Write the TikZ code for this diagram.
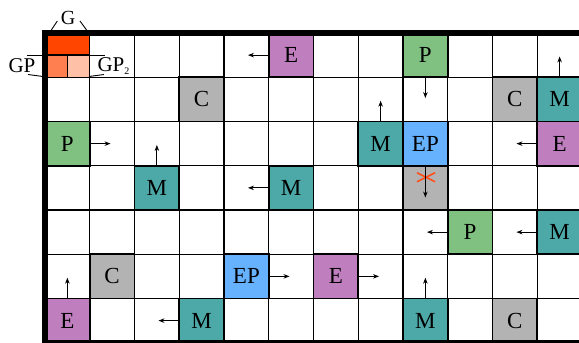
\documentclass[tikz,border=0pt]{standalone}
\usepackage{fontspec}
\setmainfont{Liberation Serif}
\usetikzlibrary{arrows.meta}
\definecolor{colE}{RGB}{191,127,191}
\definecolor{colM}{RGB}{77,168,168}
\definecolor{colP}{RGB}{128,192,128}
\definecolor{colEP}{RGB}{102,178,255}
\definecolor{colC}{RGB}{179,179,179}
\definecolor{colG}{RGB}{255,69,0}
\definecolor{colGPa}{RGB}{255,127,80}
\definecolor{colGPb}{RGB}{255,192,168}
\definecolor{colX}{RGB}{255,80,30}
\begin{document}
\begin{tikzpicture}[x=44.75pt,y=-44.25pt,
  gridline/.style={draw=black, line width=1.4pt},
  border/.style={draw=black, line width=6pt},
  cellbox/.style={draw=black, line width=1.6pt, minimum width=44.75pt, minimum height=44.25pt, inner sep=0pt, anchor=center, font=\fontsize{23}{23}\selectfont},
  cellE/.style={cellbox, fill=colE},
  cellM/.style={cellbox, fill=colM},
  cellP/.style={cellbox, fill=colP},
  cellEP/.style={cellbox, fill=colEP},
  cellC/.style={cellbox, fill=colC},
  quarter/.style={draw=black, line width=1.4pt, inner sep=0pt, anchor=center},
  lbl/.style={inner sep=0pt, anchor=center, font=\fontsize{21}{21}\selectfont},
  brk/.style={draw=black, line width=0.9pt},
  arr/.style={-{Stealth[length=6pt,width=4.5pt]}, line width=1pt},
  xmark/.style={draw=colX, line width=1.6pt}
]
\useasboundingbox (-1.005587,-0.745763) rectangle (11.932961,7.005650);
\clip (-1.005587,-0.745763) rectangle (11.932961,7.005650);
\fill[white] (-1.005587,-0.745763) rectangle (11.932961,7.005650);

% grid
\foreach \i in {1,...,11} \draw[gridline] (\i,0) -- (\i,7);
\foreach \j in {1,...,6} \draw[gridline] (0,\j) -- (12,\j);

% G cell
\node[quarter, fill=colG, minimum width=44.75pt, minimum height=22.125pt] (g) at (0.5,0.25) {};
\node[quarter, fill=colGPa, minimum width=22.375pt, minimum height=22.125pt] (gpa) at (0.25,0.75) {};
\node[quarter, fill=colGPb, minimum width=22.375pt, minimum height=22.125pt] (gpb) at (0.75,0.75) {};

% coloured cells
\node[cellE] (e1) at (5.5,0.5) {E};
\node[cellP] (p1) at (8.5,0.5) {P};
\node[cellC] (c1) at (3.5,1.5) {C};
\node[cellC] (c2) at (10.5,1.5) {C};
\node[cellM] (m1) at (11.5,1.5) {M};
\node[cellP] (p2) at (0.5,2.5) {P};
\node[cellM] (m2) at (7.5,2.5) {M};
\node[cellEP] (ep1) at (8.5,2.5) {EP};
\node[cellE] (e2) at (11.5,2.5) {E};
\node[cellM] (m3) at (2.5,3.5) {M};
\node[cellM] (m4) at (5.5,3.5) {M};
\node[cellC] (cx) at (8.5,3.5) {};
\node[cellP] (p3) at (9.5,4.5) {P};
\node[cellM] (m5) at (11.5,4.5) {M};
\node[cellC] (c3) at (1.5,5.5) {C};
\node[cellEP] (ep2) at (4.5,5.5) {EP};
\node[cellE] (e4) at (6.5,5.5) {E};
\node[cellE] (e3) at (0.5,6.5) {E};
\node[cellM] (m7) at (3.5,6.5) {M};
\node[cellM] (m6) at (8.5,6.5) {M};
\node[cellC] (c4) at (10.5,6.5) {C};

% red cross
\coordinate (xa) at (8.313,3.158);
\coordinate (xb) at (8.715,3.362);
\coordinate (xc) at (8.313,3.362);
\coordinate (xd) at (8.715,3.158);
\draw[xmark] (xa) -- (xb);
\draw[xmark] (xc) -- (xd);

% arrows
\draw[arr] (e1.west) -- ++(-20pt,0pt);
\draw[arr] (m1.north) -- ++(0pt,20pt);
\draw[arr] (p1.south) -- ++(0pt,-20pt);
\draw[arr] (m2.north) -- ++(0pt,20pt);
\draw[arr] (p2.east) -- ++(20pt,0pt);
\draw[arr] (m3.north) -- ++(0pt,20pt);
\draw[arr] (e2.west) -- ++(-20pt,0pt);
\draw[arr] (m4.west) -- ++(-20pt,0pt);
\draw[arr] (ep1.south) -- ++(0pt,-31pt);
\draw[arr] (p3.west) -- ++(-20pt,0pt);
\draw[arr] (m5.west) -- ++(-20pt,0pt);
\draw[arr] (e3.north) -- ++(0pt,20pt);
\draw[arr] (ep2.east) -- ++(20pt,0pt);
\draw[arr] (e4.east) -- ++(20pt,0pt);
\draw[arr] (m6.north) -- ++(0pt,20pt);
\draw[arr] (m7.west) -- ++(-20pt,0pt);

% outer border
\draw[border] (0,0) rectangle (12,7);

% labels
\node[lbl, font=\fontsize{20}{20}\selectfont] (gl) at (0.514,-0.339) {G};
\coordinate (ga1) at (0.127,-0.045);
\coordinate (ga2) at (0.275,-0.271);
\coordinate (gb1) at (0.782,-0.271);
\coordinate (gb2) at (0.945,-0.045);
\draw[brk] (ga1) -- (ga2);
\draw[brk] (gb1) -- (gb2);

\node[lbl] (gpl) at (-0.514,0.734) {GP};
\coordinate (pa1) at (-0.402,0.508);
\coordinate (pa2) at (-0.045,0.508);
\coordinate (pb1) at (-0.380,0.938);
\coordinate (pb2) at (-0.045,0.983);
\draw[brk] (pa1) -- (pa2);
\draw[brk] (pb1) -- (pb2);

\node[lbl] (gpr) at (1.535,0.746) {GP\textsubscript{\fontsize{10}{10}\selectfont 2}};
\coordinate (qa1) at (0.983,0.508);
\coordinate (qa2) at (1.341,0.508);
\coordinate (qb1) at (0.983,0.983);
\coordinate (qb2) at (1.318,0.938);
\draw[brk] (qa1) -- (qa2);
\draw[brk] (qb1) -- (qb2);
\end{tikzpicture}
\end{document}
